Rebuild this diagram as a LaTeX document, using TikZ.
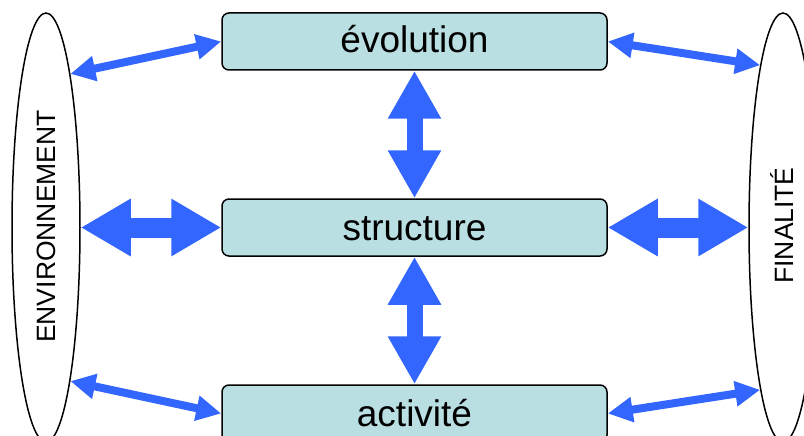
\documentclass[tikz,border=0pt]{standalone}
\usepackage{fontspec}
\setmainfont{Liberation Sans}
\usetikzlibrary{shapes.geometric,arrows.meta}

\definecolor{boxfill}{HTML}{B9DFE2}
\definecolor{linkblue}{HTML}{3366FF}

\tikzset{
  stage/.style={draw=black, line width=1.5pt, fill=boxfill, rounded corners=7pt,
    minimum width=385pt, minimum height=57pt, inner sep=0pt},
  stagetext/.style={anchor=base, inner sep=0pt, font=\fontsize{37}{44}\selectfont},
  pole/.style={draw=black, line width=1.5pt, ellipse, minimum width=68pt,
    minimum height=429pt, inner sep=0pt},
  poletext/.style={anchor=base, rotate=90, inner sep=0pt, font=\fontsize{26.5}{30}\selectfont},
  thinlink/.style={draw=linkblue, line width=8pt,
    {Triangle[length=25pt,width=24pt]}-{Triangle[length=25pt,width=24pt]}},
  widelink/.style={draw=linkblue, line width=20pt,
    {Triangle[length=50pt,width=54pt]}-{Triangle[length=50pt,width=54pt]}},
  uplink/.style={draw=linkblue, line width=16pt,
    {Triangle[length=48pt,width=50pt]}-{Triangle[length=48pt,width=50pt]}}
}

\begin{document}
\begin{tikzpicture}[x=1pt, y=-1pt]
  \useasboundingbox (0,0) rectangle (804,436);
  \clip (0,0) rectangle (804,436);
  \fill[white] (0,0) rectangle (804,436);

  % side poles
  \node[pole] (env) at (46,227.5) {};
  \node[pole] (fin) at (783,227.5) {};
  \node[poletext] (envtext) at (55,226.5) {ENVIRONNEMENT};
  \node[poletext] (fintext) at (793,225.5) {FINALITÉ};

  % central boxes
  \node[stage] (evo) at (414.5,41.5) {};
  \node[stage] (str) at (414.5,227.5) {};
  \node[stage] (act) at (414.5,413.5) {};
  \node[stagetext] (evotext) at (414.5,53) {évolution};
  \node[stagetext] (strtext) at (414.5,240) {structure};
  \node[stagetext] (acttext) at (414.5,426) {activité};

  % links between the boxes
  \draw[uplink] (evo.south) -- (str.north);
  \draw[uplink] (str.south) -- (act.north);

  % links to the poles
  \draw[widelink] (env.east) -- (str.west);
  \draw[widelink] (str.east) -- (fin.west);
  \draw[thinlink] (env.81) -- (evo.west);
  \draw[thinlink] (env.-81) -- (act.west);
  \draw[thinlink] (evo.east) -- (fin.98.5);
  \draw[thinlink] (act.east) -- (fin.-98.5);
\end{tikzpicture}
\end{document}
